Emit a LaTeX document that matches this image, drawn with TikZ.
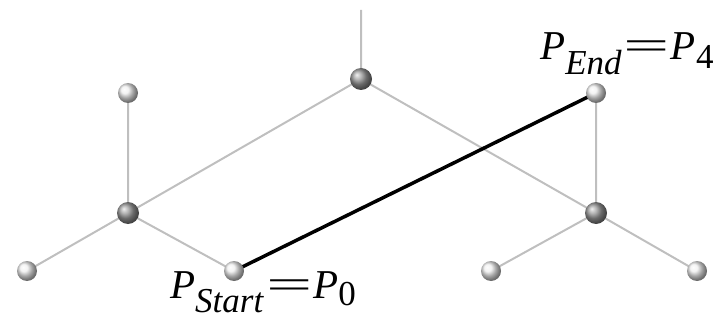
\documentclass[tikz,border=0pt]{standalone}
\usepackage{fontspec}
\setmainfont{Liberation Serif}
\newcommand{\subtx}[2]{\raisebox{-#1}{\fontsize{35}{37}\selectfont #2}}
\newcommand{\bigeq}{\hspace{2pt}\scalebox{2}[1]{=}\hspace{1pt}}
\begin{document}
\begin{tikzpicture}[x=1pt,y=-1pt,
  edge/.style={draw=black!25,line width=2pt},
  leaf/.style={circle,minimum size=20pt,inner sep=0pt,shading=ball,ball color=black!6},
  inner/.style={circle,minimum size=22pt,inner sep=0pt,shading=ball,ball color=black!40},
  path/.style={draw=black,line width=3.5pt},
  lab/.style={inner sep=0pt,font=\fontsize{41}{43}\selectfont}]
\useasboundingbox (0,0) rectangle (722,323);
\coordinate (top) at (361,10);
\coordinate (r) at (361,79);
\coordinate (L) at (128,213);
\coordinate (R) at (596,213);
\coordinate (l1) at (128,93);
\coordinate (l2) at (27,271);
\coordinate (p0) at (234,271);
\coordinate (p4) at (596,93);
\coordinate (r1) at (491,271);
\coordinate (r2) at (697,271);
\draw[edge] (top) -- (r) -- (L) -- (l1);
\draw[edge] (L) -- (l2);
\draw[edge] (L) -- (p0);
\draw[edge] (r) -- (R) -- (p4);
\draw[edge] (R) -- (r1);
\draw[edge] (R) -- (r2);
\draw[path] (p0) -- (p4);
\node[inner] (nr) at (r) {};
\node[inner] (nL) at (L) {};
\node[inner] (nR) at (R) {};
\foreach \c in {l1,l2,p0,p4,r1,r2} \node[leaf] (n\c) at (\c) {};
\node[lab,anchor=base west] (lab0) at (170,298) {\textit{P}\subtx{14pt}{\textit{Start}}\bigeq\textit{P}\subtx{7pt}{0}};
\node[lab,anchor=base west] (lab4) at (540,60) {\textit{P}\subtx{15pt}{\textit{End}}\bigeq\textit{P}\subtx{9pt}{4}};
\end{tikzpicture}
\end{document}
